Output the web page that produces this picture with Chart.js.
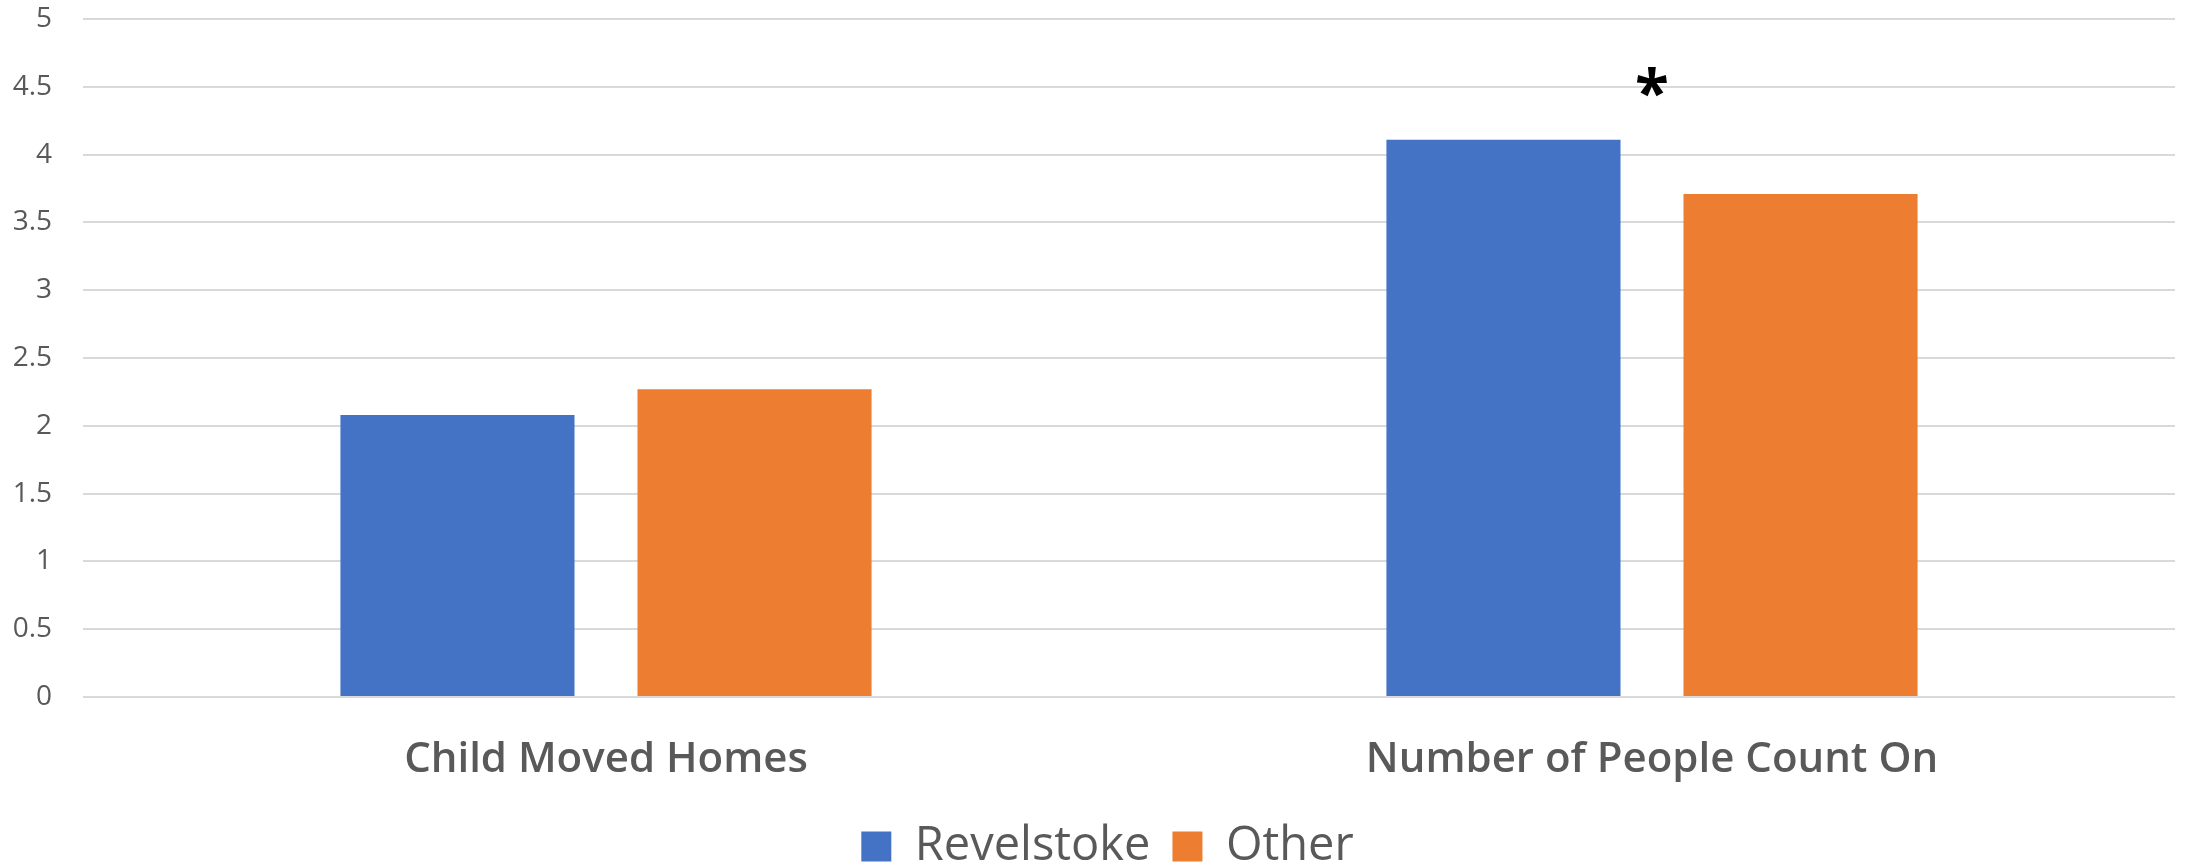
<!DOCTYPE html>
<html>
<head>
<meta charset="utf-8">
<script src="https://cdn.jsdelivr.net/npm/chart.js@4"></script>
<style>
  html, body { margin: 0; padding: 0; background: #fff; }
  #wrap { width: 2188px; height: 865px; position: relative; }
</style>
</head>
<body>
<div id="wrap"><canvas id="barChart"></canvas></div>
<script>
const categories = ['Child Moved Homes', 'Number of People Count On'];
const revelstoke = [2.08, 4.11];
const other = [2.27, 3.71];
// significance marks drawn above each group ('' = none)
const sigMarks = ['', '*'];

const textGrey = '#595959';

// puts the significance star above the tallest bar of a group
const sigPlugin = {
    id: 'sigMarks',
    afterDatasetsDraw(chart) {
        const ctx = chart.ctx;
        const x = chart.scales.x;
        const y = chart.scales.y;
        ctx.save();
        ctx.fillStyle = '#000';
        ctx.font = 'bold 62px "Open Sans"';
        ctx.textAlign = 'center';
        ctx.textBaseline = 'middle';
        sigMarks.forEach((m, i) => {
            if (!m) return;
            const top = Math.max(revelstoke[i], other[i]);
            ctx.fillText(m, x.getPixelForValue(i), y.getPixelForValue(top) - 42);
        });
        ctx.restore();
    }
};

// legend sits a little right of the canvas centre
const legendShift = {
    id: 'legendShift',
    afterLayout(chart) {
        if (!chart.legend) return;
        chart.legend.left += 20;
        chart.legend.right += 20;
    }
};

new Chart(document.getElementById('barChart'), {
    type: 'bar',
    data: {
        labels: categories,
        datasets: [{
            label: 'Revelstoke',
            data: revelstoke,
            backgroundColor: '#4472c4'
        }, {
            label: 'Other',
            data: other,
            backgroundColor: '#ed7d31'
        }]
    },
    options: {
        responsive: true,
        maintainAspectRatio: false,
        animation: false,
        categoryPercentage: 0.568,
        barPercentage: 0.788,
        layout: { padding: { top: 19, right: 13, left: 0, bottom: -15 } },
        plugins: {
            tooltip: { enabled: false },
            legend: {
                position: 'bottom',
                labels: {
                    color: textGrey,
                    font: { family: 'Open Sans', size: 47 },
                    boxWidth: 30,
                    boxHeight: 30,
                    padding: 22
                }
            }
        },
        scales: {
            x: {
                grid: { display: false },
                border: { display: false },
                ticks: {
                    color: textGrey,
                    padding: 30,
                    font: { family: 'Open Sans', size: 42, weight: 600 }
                },
                afterFit: s => { s.height = 104; }
            },
            y: {
                min: 0,
                max: 5,
                grid: { color: '#d9d9d9', lineWidth: 2, drawTicks: false },
                border: { display: false },
                ticks: {
                    stepSize: 0.5,
                    color: textGrey,
                    padding: 31,
                    font: { family: 'Open Sans', size: 28 },
                    callback: v => String(v)
                },
                afterFit: s => {
                    s.width = 83;
                    s.paddingTop = 0;
                    s.paddingBottom = 0;
                }
            }
        }
    },
    plugins: [sigPlugin, legendShift]
});
</script>
</body>
</html>
